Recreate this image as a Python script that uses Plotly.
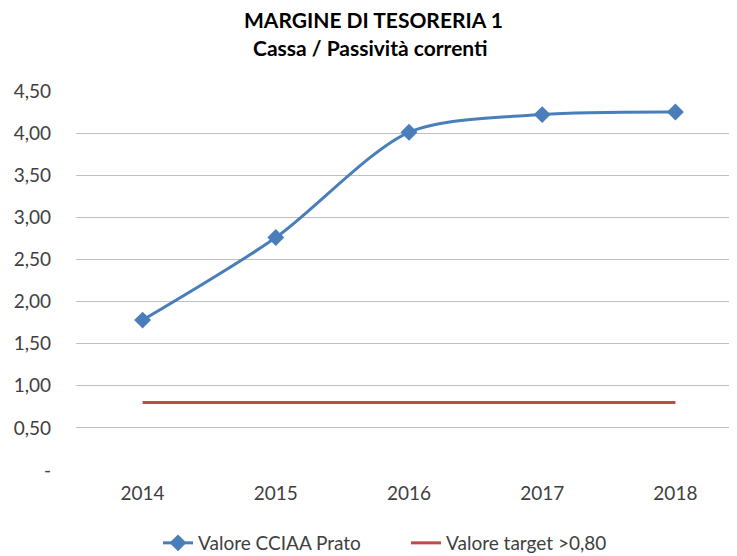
import plotly.graph_objects as go

years = ["2014", "2015", "2016", "2017", "2018"]
cciaa_values = [1.78, 2.76, 4.01, 4.22, 4.25]
target_values = [0.80, 0.80, 0.80, 0.80, 0.80]
y_tickvals = [0, 0.5, 1.0, 1.5, 2.0, 2.5, 3.0, 3.5, 4.0, 4.5]
y_ticktext = ["-", "0,50", "1,00", "1,50", "2,00", "2,50", "3,00", "3,50", "4,00", "4,50"]
title_line1 = "MARGINE DI TESORERIA 1"
title_line2 = "Cassa / Passività correnti"

FONT = "Lato"
TXT = "#404040"

# page body adds an 8px offset; margins compensate for it
L, R, T, B = 68, 3, 83, 93
H = 556
plot_h = H - T - B


def py(fig_y):
    return 1 + (T - fig_y) / plot_h


def px(fig_x):
    return (fig_x - L) / (737 - L - R)


fig = go.Figure()
fig.add_trace(go.Scatter(
    x=years, y=cciaa_values, name="Valore CCIAA Prato",
    mode="lines+markers",
    line=dict(color="#4A7EBB", width=3, shape="spline", smoothing=0.8),
    marker=dict(symbol="diamond", size=13, color="#4A7EBB"),
))
fig.add_trace(go.Scatter(
    x=years, y=target_values, name="Valore target >0,80",
    mode="lines",
    line=dict(color="#BE4B48", width=3),
))

fig.add_annotation(text="<b>%s</b>" % title_line1, xref="paper", yref="paper",
                   x=px(365.5), y=py(11), xanchor="center", yanchor="middle",
                   showarrow=False, borderpad=0,
                   font=dict(family=FONT, size=21, color="black"))
fig.add_annotation(text="<b>%s</b>" % title_line2, xref="paper", yref="paper",
                   x=px(362), y=py(39), xanchor="center", yanchor="middle",
                   showarrow=False, borderpad=0,
                   font=dict(family=FONT, size=21, color="black"))

fig.update_layout(
    width=737, height=H,
    paper_bgcolor="white", plot_bgcolor="white",
    margin=dict(l=L, r=R, t=T, b=B),
    font=dict(family=FONT, size=19, color=TXT),
    xaxis=dict(
        type="category", range=[-0.5, 4.5],
        showgrid=False, showline=False, zeroline=False,
        ticks="", ticklabelstandoff=10,
        tickfont=dict(size=19, color=TXT),
    ),
    yaxis=dict(
        range=[0, 4.5], tickvals=y_tickvals, ticktext=y_ticktext,
        showgrid=True, gridcolor="#BFBFBF", gridwidth=1.3,
        zeroline=False, showline=False, ticks="",
        ticklabelstandoff=24,
        tickfont=dict(size=19, color=TXT),
    ),
    legend=dict(
        orientation="h", x=px(150), xanchor="left", y=py(535), yanchor="middle",
        font=dict(size=19, color=TXT),
        tracegroupgap=0, entrywidth=203, entrywidthmode="pixels",
    ),
    showlegend=True,
)

fig.write_html("out.html")
